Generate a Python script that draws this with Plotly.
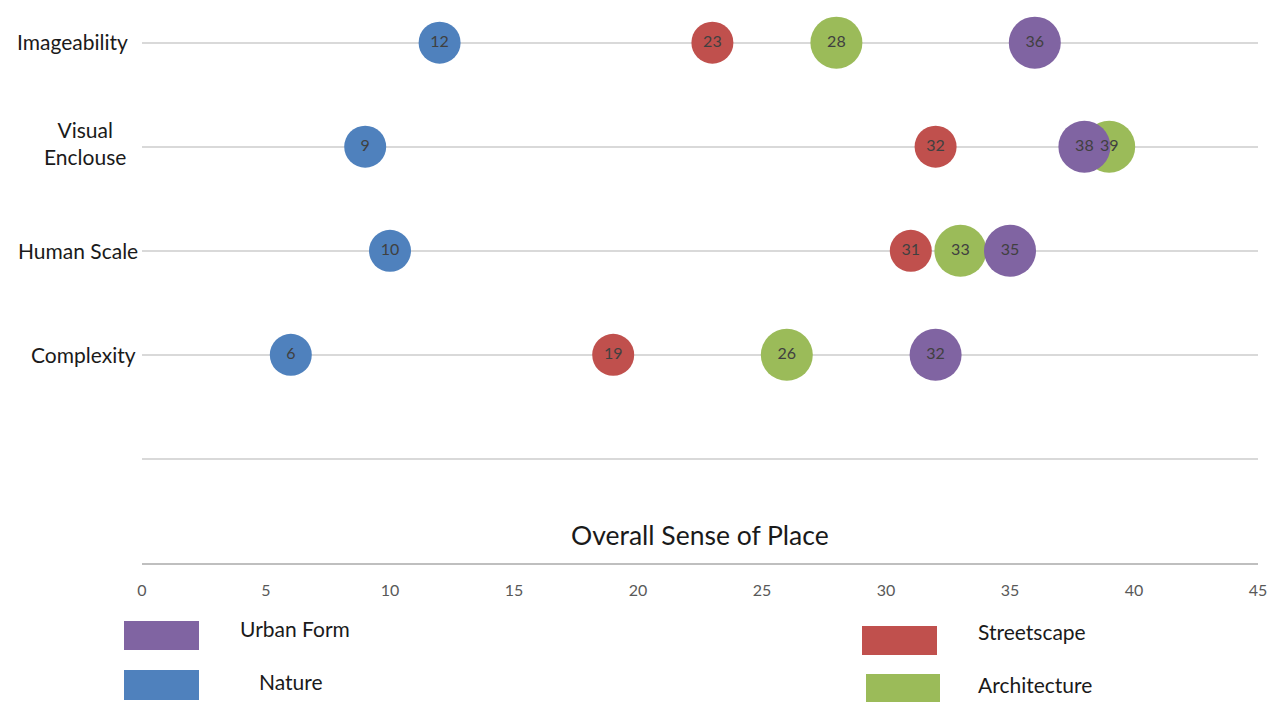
import plotly.graph_objects as go

# Sense-of-place scores per dimension
categories = ["Imageability", "Visual<br>Enclouse", "Human Scale", "Complexity"]
row_pos = [4, 3, 2, 1]
urban_form = [36, 38, 35, 32]
streetscape = [23, 32, 31, 19]
architecture = [28, 39, 33, 26]
nature = [12, 9, 10, 6]
x_ticks = [0, 5, 10, 15, 20, 25, 30, 35, 40, 45]

FONT = "Lato"
W, H = 1270, 702
L, R, T, B = 142, 12, 1, 139
PW, PH = W - L - R, H - T - B


def px(xp):
    return (xp - L) / PW


def py(yp):
    return (H - B - yp) / PH


series = [
    ("Nature", nature, "#4F81BD", 42),
    ("Streetscape", streetscape, "#C0504D", 42),
    ("Architecture", architecture, "#9BBB59", 52),
    ("Urban Form", urban_form, "#8064A2", 52),
]

fig = go.Figure()
# bubbles first
for name, vals, color, size in series:
    fig.add_trace(go.Scatter(
        x=vals, y=row_pos, mode="markers", name=name,
        marker=dict(size=size, color=color, opacity=1, line=dict(width=0)),
        showlegend=False, hoverinfo="x+name",
    ))
# value labels on top of every bubble
for name, vals, color, size in series:
    fig.add_trace(go.Scatter(
        x=vals, y=row_pos, mode="text",
        text=[str(v) for v in vals], textposition="middle center",
        textfont=dict(family=FONT, size=16, color="#404040"),
        showlegend=False, hoverinfo="skip",
    ))

annotations = []
# category labels on the left
label_centers = [72, 85, 78, 83]
label_shift = [1, 4, 0, 0]
for cat, yv, cx, sh in zip(categories, row_pos, label_centers, label_shift):
    annotations.append(dict(
        x=px(cx), xref="paper", y=yv, yref="y", text=cat, showarrow=False,
        xanchor="center", yanchor="middle", align="center", yshift=sh,
        font=dict(family=FONT, size=21, color="#1a1a1a"),
    ))
# chart title placed above the value axis
annotations.append(dict(
    x=0.5, xref="paper", y=py(535), yref="paper", text="Overall Sense of Place",
    showarrow=False, xanchor="center", yanchor="middle",
    font=dict(family=FONT, size=26.5, color="#1a1a1a"),
))

# custom legend: colour swatches with labels
legend_items = [
    ("Urban Form", "#8064A2", (124, 621, 199, 650), (238, 628)),
    ("Nature", "#4F81BD", (124, 670, 199, 700), (257, 681)),
    ("Streetscape", "#C0504D", (862, 626, 937, 655), (976, 631)),
    ("Architecture", "#9BBB59", (866, 674, 940, 702), (976, 684)),
]
shapes = []
for name, color, (x0, y0, x1, y1), (tx, ty) in legend_items:
    shapes.append(dict(
        type="rect", xref="paper", yref="paper",
        x0=px(x0), x1=px(x1), y0=py(y1), y1=py(y0),
        fillcolor=color, line=dict(width=0),
    ))
    annotations.append(dict(
        x=px(tx), xref="paper", y=py(ty), yref="paper", text=name,
        showarrow=False, xanchor="left", yanchor="middle",
        font=dict(family=FONT, size=21, color="#1a1a1a"),
    ))

fig.update_layout(
    width=W, height=H,
    margin=dict(l=L, r=R, t=T, b=B),
    paper_bgcolor="white", plot_bgcolor="white",
    annotations=annotations, shapes=shapes,
    xaxis=dict(
        range=[0, 45], tickvals=x_ticks, ticktext=[str(t) for t in x_ticks],
        showgrid=False, zeroline=False, showline=True,
        linecolor="#bfbfbf", linewidth=2, ticks="",
        tickfont=dict(family=FONT, size=16, color="#595959"),
        ticklabelstandoff=12,
    ),
    yaxis=dict(
        range=[-1, 4.4], tickvals=[0, 1, 2, 3, 4], showticklabels=False,
        showgrid=True, gridcolor="#d9d9d9", gridwidth=2, zeroline=False,
        showline=False,
    ),
)

fig.write_html("out.html")
